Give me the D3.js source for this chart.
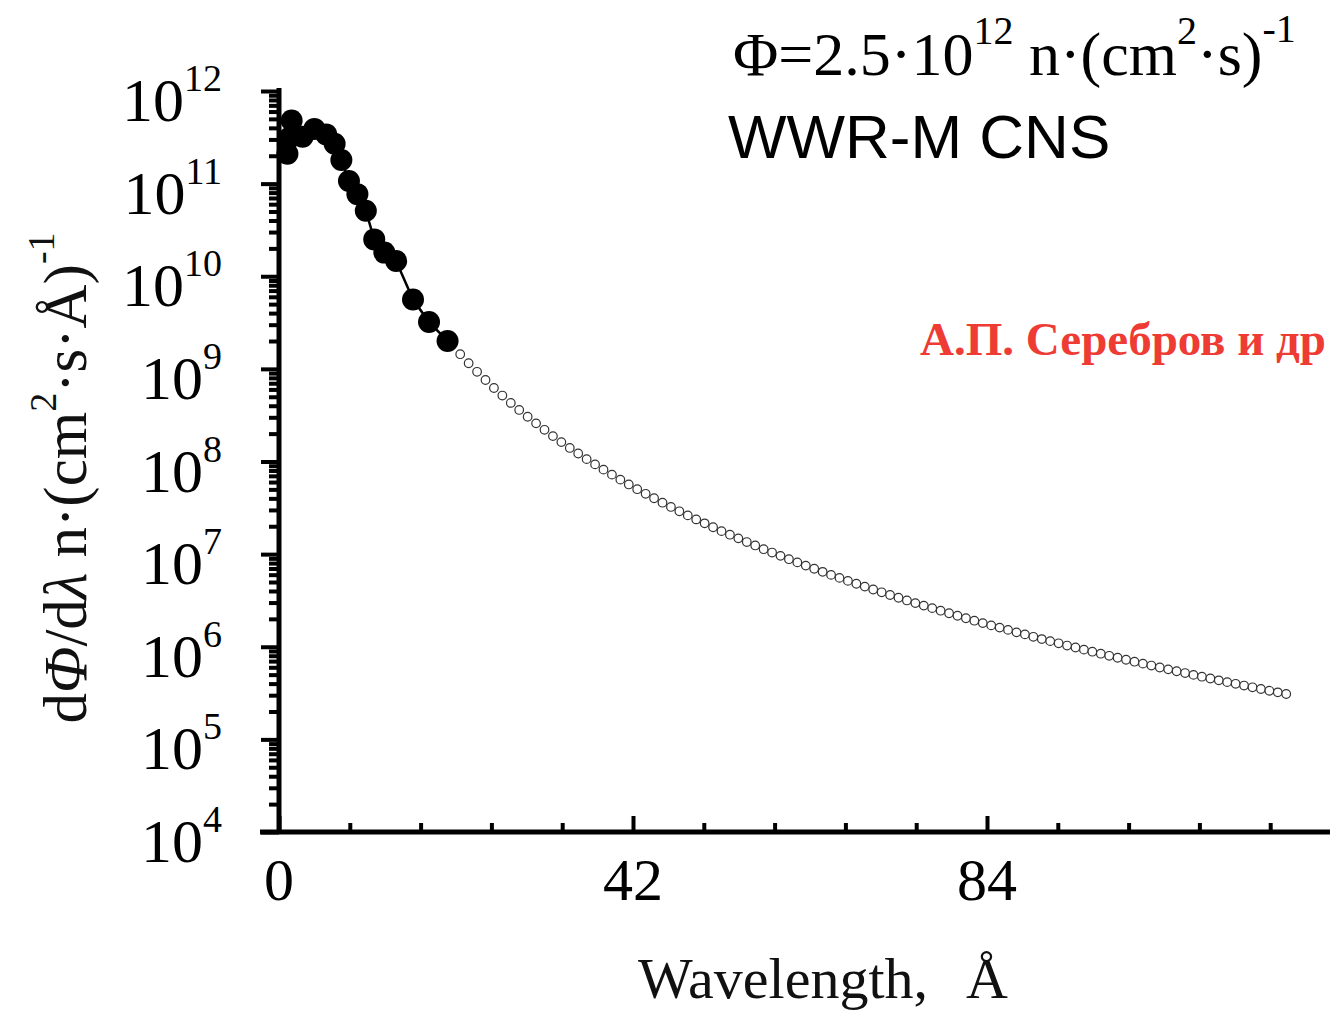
<!DOCTYPE html>
<html>
<head>
<meta charset="utf-8">
<script src="https://cdn.jsdelivr.net/npm/d3@7"></script>
<style>
body { margin: 0; background: #fff; }
svg { display: block; }
.serif { font-family: "Liberation Serif", "Times New Roman", serif; }
.sans { font-family: "Liberation Sans", Arial, sans-serif; }
</style>
</head>
<body>
<div id="chart"></div>
<script>
// measured points (filled) - wavelength in A, flux per A
var filledLambda = [1.0, 1.2, 1.5, 2.8, 4.2, 5.6, 6.6, 7.4, 8.3, 9.3, 10.3, 11.3, 12.5, 13.9, 15.9, 17.8, 20.0];
var filledFlux = [2.1e11, 3.1e11, 4.8e11, 3.2e11, 3.9e11, 3.4e11, 2.7e11, 1.8e11, 1.07e11, 7.7e10, 5.1e10, 2.5e10, 1.8e10, 1.46e10, 5.6e9, 3.2e9, 2.0e9];

// extrapolated tail (open circles)
var openLambda = [20.5, 21.5, 22.5, 23.5, 24.5, 25.5, 26.5, 27.5, 28.5, 29.5,
	30.5, 31.5, 32.5, 33.5, 34.5, 35.5, 36.5, 37.5, 38.5, 39.5,
	40.5, 41.5, 42.5, 43.5, 44.5, 45.5, 46.5, 47.5, 48.5, 49.5,
	50.5, 51.5, 52.5, 53.5, 54.5, 55.5, 56.5, 57.5, 58.5, 59.5,
	60.5, 61.5, 62.5, 63.5, 64.5, 65.5, 66.5, 67.5, 68.5, 69.5,
	70.5, 71.5, 72.5, 73.5, 74.5, 75.5, 76.5, 77.5, 78.5, 79.5,
	80.5, 81.5, 82.5, 83.5, 84.5, 85.5, 86.5, 87.5, 88.5, 89.5,
	90.5, 91.5, 92.5, 93.5, 94.5, 95.5, 96.5, 97.5, 98.5, 99.5,
	100.5, 101.5, 102.5, 103.5, 104.5, 105.5, 106.5, 107.5, 108.5, 109.5,
	110.5, 111.5, 112.5, 113.5, 114.5, 115.5, 116.5, 117.5, 118.5, 119.5];
var openFlux = [1.82e9, 1.44e9, 1.15e9, 9.30e8, 7.58e8, 6.22e8, 5.15e8, 4.29e8, 3.60e8, 3.04e8,
	2.58e8, 2.20e8, 1.88e8, 1.62e8, 1.40e8, 1.22e8, 1.06e8, 9.31e7, 8.17e7, 7.21e7,
	6.37e7, 5.65e7, 5.02e7, 4.48e7, 4.01e7, 3.59e7, 3.23e7, 2.90e7, 2.62e7, 2.37e7,
	2.15e7, 1.95e7, 1.77e7, 1.62e7, 1.48e7, 1.35e7, 1.24e7, 1.13e7, 1.04e7, 9.58e6,
	8.82e6, 8.14e6, 7.52e6, 6.95e6, 6.44e6, 5.97e6, 5.54e6, 5.14e6, 4.79e6, 4.46e6,
	4.15e6, 3.87e6, 3.62e6, 3.38e6, 3.16e6, 2.96e6, 2.78e6, 2.61e6, 2.45e6, 2.30e6,
	2.16e6, 2.03e6, 1.91e6, 1.80e6, 1.70e6, 1.61e6, 1.52e6, 1.43e6, 1.36e6, 1.28e6,
	1.21e6, 1.15e6, 1.09e6, 1.03e6, 9.81e5, 9.31e5, 8.84e5, 8.41e5, 7.99e5, 7.61e5,
	7.24e5, 6.90e5, 6.57e5, 6.27e5, 5.97e5, 5.70e5, 5.44e5, 5.20e5, 4.97e5, 4.75e5,
	4.54e5, 4.34e5, 4.15e5, 3.98e5, 3.81e5, 3.65e5, 3.50e5, 3.35e5, 3.22e5, 3.09e5];

var xMajorTicks = [0, 42, 84, 126];
var xMinorTicks = [8.4, 16.8, 25.2, 33.6, 50.4, 58.8, 67.2, 75.6, 92.4, 100.8, 109.2, 117.6];
var xTickLabels = ["0", "42", "84", ""];
var yMajorExp = [4, 5, 6, 7, 8, 9, 10, 11, 12];

var W = 1330, H = 1013;

var svg = d3.select("#chart").append("svg")
	.attr("width", W)
	.attr("height", H);

var xS = d3.scaleLinear().domain([0, 126]).range([279, 1341]);
var yS = d3.scaleLog().domain([1e4, 1e12]).range([832, 91]);

var yMajor = yMajorExp.map(function(e) { return Math.pow(10, e); });
var yMinor = yS.ticks().filter(function(v) {
	var l = Math.log10(v);
	return Math.abs(l - Math.round(l)) > 1e-6;
});

function styleAxis(g, domainWidth)
{
	g.selectAll("text").remove();
	g.selectAll(".tick line").attr("stroke", "#000").attr("stroke-width", 4);
	g.select(".domain").attr("stroke", "#000").attr("stroke-width", domainWidth);
}

//Y axis: minor then major ticks
svg.append("g")
	.attr("transform", "translate(279,0)")
	.call(d3.axisLeft(yS).tickValues(yMinor).tickSize(10).tickSizeOuter(0).tickFormat(""))
	.call(styleAxis, 0);

var gy = svg.append("g")
	.attr("transform", "translate(279,0)")
	.call(d3.axisLeft(yS).tickValues(yMajor).tickSize(18).tickSizeOuter(0).tickFormat(""))
	.call(styleAxis, 5);
gy.select(".domain").attr("d", "M0," + (yS(1e12) - 3) + "V" + (yS(1e4) + 2));

//Y tick labels as 10^n
var yLab = svg.append("g").attr("class", "serif");
yMajorExp.forEach(function(e)
{
	var t = yLab.append("text")
		.attr("x", 222)
		.attr("y", yS(Math.pow(10, e)) + 30)
		.attr("text-anchor", "end")
		.attr("font-size", 62);
	t.append("tspan").text("10");
	t.append("tspan").attr("font-size", 38).attr("dy", -30).text(e);
});

//X axis
svg.append("g")
	.attr("transform", "translate(0,832)")
	.call(d3.axisBottom(xS).tickValues(xMinorTicks).tickSize(-9).tickSizeOuter(0).tickFormat(""))
	.call(styleAxis, 0);

var gx = svg.append("g")
	.attr("transform", "translate(0,832)")
	.call(d3.axisBottom(xS).tickValues(xMajorTicks).tickSize(-16).tickSizeOuter(0).tickFormat(""))
	.call(styleAxis, 5);
gx.select(".domain").attr("d", "M260,0H" + W);

svg.append("g").attr("class", "serif")
	.selectAll("text")
	.data(xMajorTicks)
	.enter().append("text")
	.attr("x", function(d) { return xS(d); })
	.attr("y", 900)
	.attr("text-anchor", "middle")
	.attr("font-size", 60)
	.text(function(d, i) { return xTickLabels[i]; });

//Axis titles
var xt = svg.append("text")
	.attr("class", "serif")
	.attr("x", 638)
	.attr("y", 998)
	.attr("font-size", 58)
	.attr("fill", "#111");
xt.append("tspan").text("Wavelength,");
xt.append("tspan").attr("dx", 38).text("Å");

var yt = svg.append("text")
	.attr("class", "serif")
	.attr("transform", "translate(86,478) rotate(-90)")
	.attr("text-anchor", "middle")
	.attr("font-size", 61)
	.attr("fill", "#111");
yt.append("tspan").text("d");
yt.append("tspan").attr("font-style", "italic").text("Φ");
yt.append("tspan").text("/d");
yt.append("tspan").attr("font-style", "italic").text("λ");
yt.append("tspan").text(" n·(cm");
yt.append("tspan").attr("font-size", 38).attr("dy", -30).text("2");
yt.append("tspan").attr("dy", 30).text("·s·Å)");
yt.append("tspan").attr("font-size", 38).attr("dy", -32).text("-1");

//Data line through measured points
var line = d3.line()
	.x(function(d) { return xS(d[0]); })
	.y(function(d) { return yS(d[1]); });

var filled = filledLambda.map(function(d, i) { return [d, filledFlux[i]]; });
var open = openLambda.map(function(d, i) { return [d, openFlux[i]]; });

svg.append("path")
	.datum(filled)
	.attr("fill", "none")
	.attr("stroke", "#000")
	.attr("stroke-width", 2.5)
	.attr("d", line);

svg.append("g")
	.selectAll("circle")
	.data(open)
	.enter().append("circle")
	.attr("cx", function(d) { return xS(d[0]); })
	.attr("cy", function(d) { return yS(d[1]); })
	.attr("r", 4.3)
	.attr("fill", "#fff")
	.attr("stroke", "#333")
	.attr("stroke-width", 1.2);

svg.append("g")
	.selectAll("circle")
	.data(filled)
	.enter().append("circle")
	.attr("cx", function(d) { return xS(d[0]); })
	.attr("cy", function(d) { return yS(d[1]); })
	.attr("r", 11)
	.attr("fill", "#000");

//Annotations
var ft = svg.append("text")
	.attr("class", "serif")
	.attr("x", 733)
	.attr("y", 75)
	.attr("font-size", 62);
ft.append("tspan").text("Φ=2.5·10");
ft.append("tspan").attr("font-size", 40).attr("dy", -31).text("12");
ft.append("tspan").attr("dy", 31).text(" n·(cm");
ft.append("tspan").attr("font-size", 40).attr("dy", -31).text("2");
ft.append("tspan").attr("dy", 31).text("·s)");
ft.append("tspan").attr("font-size", 40).attr("dy", -33).text("-1");

svg.append("text")
	.attr("class", "sans")
	.attr("x", 728)
	.attr("y", 158)
	.attr("font-size", 62)
	.text("WWR-M CNS");

svg.append("text")
	.attr("class", "serif")
	.attr("x", 920)
	.attr("y", 355)
	.attr("font-size", 47)
	.attr("font-weight", "bold")
	.attr("fill", "#ee3b34")
	.text("А.П. Серебров и др");
</script>
</body>
</html>
